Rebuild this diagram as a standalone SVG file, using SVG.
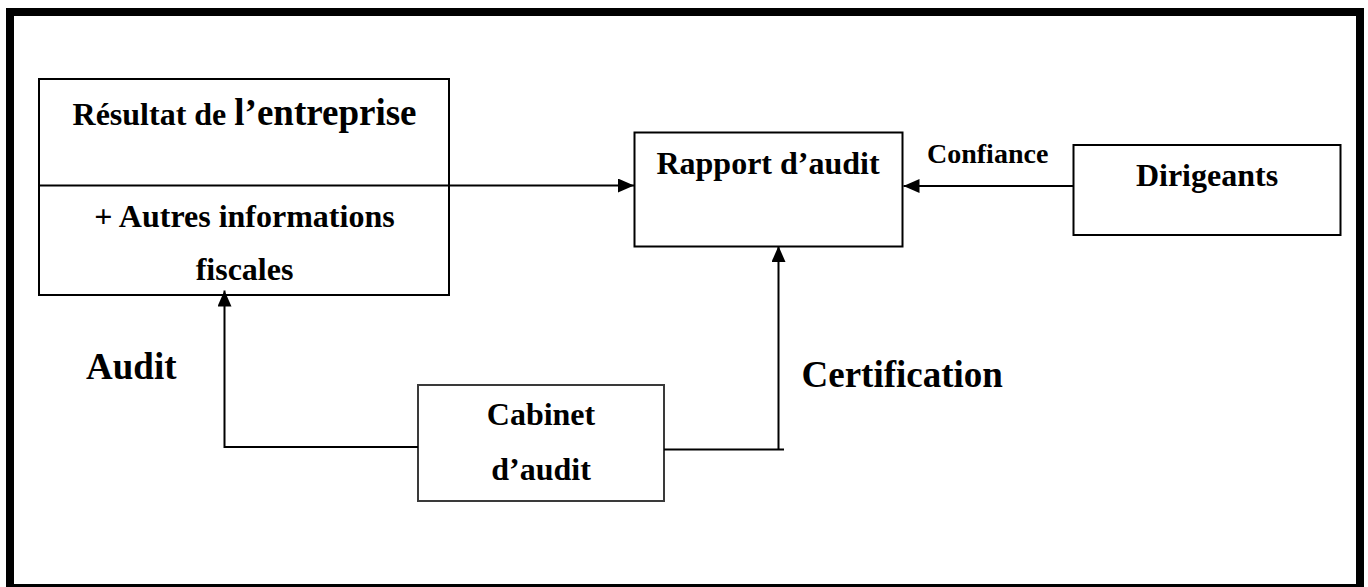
<svg xmlns="http://www.w3.org/2000/svg" width="1368" height="587" viewBox="0 0 1368 587">
  <style>
    .box { fill: #ffffff; stroke: #000000; stroke-width: 2; }
    .box-soft { fill: #ffffff; stroke: #3a3a3a; stroke-width: 2; }
    .wire { fill: none; stroke: #000000; stroke-width: 2; }
    .lbl { font-family: "Liberation Serif", "Times New Roman", serif; font-weight: bold; fill: #000000; }
    .mid { text-anchor: middle; }
  </style>
  <defs>
    <marker id="head" viewBox="0 0 16 14" refX="16" refY="7" markerWidth="16" markerHeight="14" markerUnits="userSpaceOnUse" orient="auto">
      <path d="M0 0 L16 7 L0 14 Z" fill="#000000"/>
    </marker>
  </defs>

  <rect x="0" y="0" width="1368" height="587" fill="#ffffff"/>

  <!-- outer frame -->
  <rect id="frame" x="10" y="12" width="1350" height="576" fill="none" stroke="#000000" stroke-width="8"/>

  <!-- company results box, split in two parts -->
  <g id="node-resultat">
    <rect class="box" x="39" y="79" width="410" height="216"/>
    <line class="wire" x1="39" y1="185.5" x2="449" y2="185.5"/>
    <text class="lbl mid" x="244.5" y="125"><tspan font-size="32">Résultat de </tspan><tspan font-size="37">l’entreprise</tspan></text>
    <text class="lbl mid" x="244.5" y="227" font-size="32">+ Autres informations</text>
    <text class="lbl mid" x="244.5" y="280" font-size="32">fiscales</text>
  </g>

  <g id="node-rapport">
    <rect class="box" x="634.5" y="132.5" width="268" height="114"/>
    <text class="lbl mid" x="768" y="173.5" font-size="32">Rapport d’audit</text>
  </g>

  <g id="node-dirigeants">
    <rect class="box" x="1073.5" y="145" width="267" height="90"/>
    <text class="lbl mid" x="1207" y="186" font-size="32">Dirigeants</text>
  </g>

  <g id="node-cabinet">
    <rect class="box-soft" x="418" y="385" width="246" height="116"/>
    <text class="lbl mid" x="541" y="424.5" font-size="32">Cabinet</text>
    <text class="lbl mid" x="541" y="479.5" font-size="32">d’audit</text>
  </g>

  <g id="connectors">
    <!-- results -> audit report -->
    <path class="wire" d="M449 185.5 H634" marker-end="url(#head)"/>
    <!-- management -> audit report (trust) -->
    <path class="wire" d="M1073.5 186 H903.5" marker-end="url(#head)"/>
    <!-- audit firm -> results (audit) -->
    <path class="wire" d="M418 447 H224.5 V290.5" marker-end="url(#head)"/>
    <!-- audit firm -> audit report (certification) -->
    <path class="wire" d="M664 449.5 H784 M778.5 449.5 V246" marker-end="url(#head)"/>
  </g>

  <g id="edge-labels">
    <text class="lbl" x="927" y="162.5" font-size="28">Confiance</text>
    <text class="lbl" x="86" y="378.5" font-size="37">Audit</text>
    <text class="lbl" x="801.5" y="386.5" font-size="37">Certification</text>
  </g>
</svg>
